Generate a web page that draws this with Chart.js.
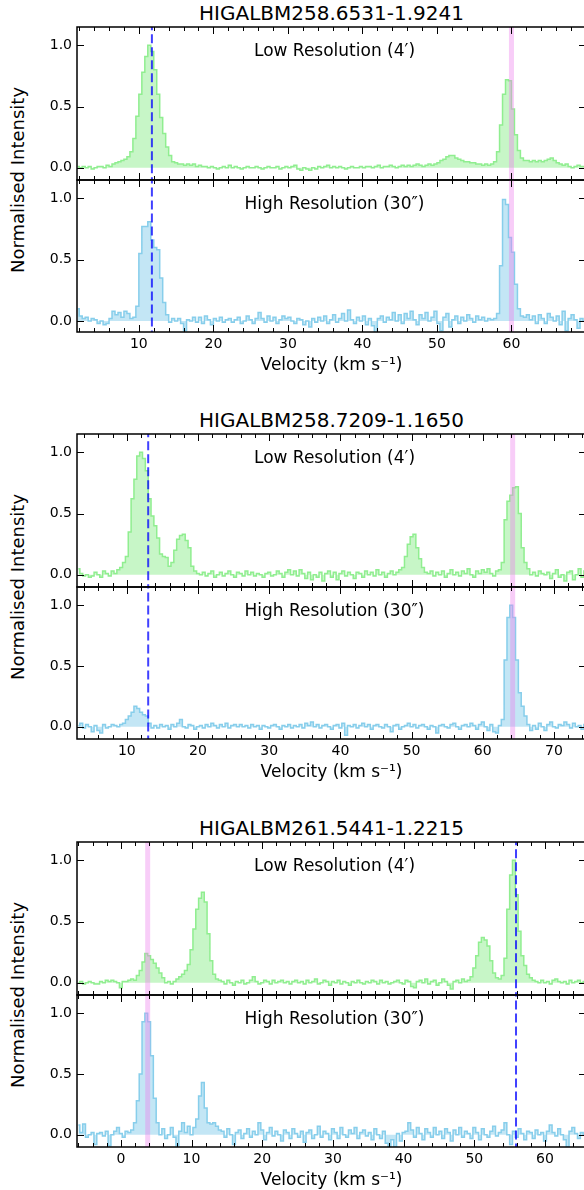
<!DOCTYPE html>
<html>
<head>
<meta charset="utf-8">
<script src="https://cdn.jsdelivr.net/npm/chart.js@4.4.1/dist/chart.umd.min.js"></script>
<style>
  html, body { margin: 0; padding: 0; background: #fff; overflow: hidden; }
  body { width: 584px; height: 1190px; position: relative; font-family: "DejaVu Sans", sans-serif; color: #000; }
  canvas { position: absolute; left: 0; }
  .title { position: absolute; left: 0; width: 663px; height: 22px; line-height: 22px; text-align: center; font-size: 20px; white-space: nowrap; }
  .ylabel { position: absolute; left: 17px; font-size: 18px; white-space: nowrap; transform: translate(-50%, -50%) rotate(-90deg); }
</style>
</head>
<body>
<script>
// spectra, channel width 0.4 km/s, normalised to the brightest channel
const channelWidth = 0.4;
const sourceNames = ["HIGALBM258.6531-1.9241", "HIGALBM258.7209-1.1650", "HIGALBM261.5441-1.2215"];
const startVelocity = [1.8, 3.2, -6.0];
const velocityRange = [[1.7, 70.0], [3.0, 74.5], [-6.2, 65.8]];
const xTickLabels = [
  [10, 20, 30, 40, 50, 60],
  [10, 20, 30, 40, 50, 60, 70],
  [0, 10, 20, 30, 40, 50, 60]
];
const yTickValues = [0, 0.5, 1.0];
const dashedVelocity = [11.75, 13.0, 55.9];
const bandVelocity = [60.0, 64.2, 3.8];

const g1Low = [
  0.01, 0.00, 0.01, 0.00, 0.01, -0.01, 0.00, 0.01, 0.01, 0.00, 0.02, 0.01,
  0.03, 0.04, 0.05, 0.06, 0.07, 0.09, 0.13, 0.24, 0.42, 0.60, 0.78, 0.91, 1.00, 0.95, 0.80, 0.60,
  0.41, 0.28, 0.17, 0.10, 0.05, 0.04, 0.03, 0.03, 0.02, 0.03, 0.02, 0.03, 0.01,
  0.02, 0.01, 0.01, 0.00, 0.01, 0.00, -0.01, 0.00, 0.01, 0.00,
  0.02, 0.00, 0.01, 0.00, -0.01, 0.00, 0.01, 0.00, 0.00, 0.01,
  0.00, -0.01, 0.00, 0.01, 0.00, 0.00, 0.01, -0.01, 0.00, 0.01,
  0.00, 0.01, 0.02, -0.01, -0.02, 0.00, -0.01, -0.02, 0.00, -0.01,
  0.01, 0.00, 0.01, 0.02, 0.00, 0.01, 0.00, 0.01, 0.00, -0.01,
  0.00, 0.01, 0.00, 0.00, 0.01, 0.00, 0.01, 0.01, 0.00, 0.01,
  0.02, 0.00, 0.01, 0.01, 0.02, 0.01, 0.00, 0.01, 0.02, 0.01,
  0.02, 0.01, 0.02, 0.03, 0.02, 0.01, 0.02, 0.03, 0.02,
  0.03, 0.04, 0.06, 0.07, 0.09, 0.10, 0.10, 0.08, 0.07, 0.06, 0.05, 0.05, 0.04, 0.04, 0.03, 0.03,
  0.02, 0.03, 0.02, 0.03, 0.05, 0.13, 0.35, 0.60, 0.72, 0.71, 0.48, 0.27, 0.14, 0.08, 0.06,
  0.06, 0.05, 0.06, 0.05, 0.06, 0.05, 0.06, 0.07, 0.08, 0.06, 0.04, 0.03, 0.02, 0.03, 0.01,
  0.00, 0.01, 0.02, 0.01, 0.01
];
const g1High = [
  0.10, 0.04, 0.02, 0.03, 0.00, 0.02, 0.01, -0.02, 0.00, -0.03, -0.02, 0.02, 0.08, 0.05,
  0.07, 0.03, 0.08, 0.06, 0.02, 0.03, 0.12, 0.55, 0.77, 0.77, 0.81, 0.66, 0.60, 0.58,
  0.35, 0.15, 0.05, -0.01, 0.02, 0.00, 0.02, -0.02, -0.08, 0.01, 0.00, 0.03, -0.01,
  0.03, -0.02, 0.04, 0.01, -0.03, 0.02, 0.00, 0.03, -0.01, 0.01,
  0.02, -0.01, 0.01, 0.03, -0.02, 0.00, 0.04, 0.01, -0.02, 0.02,
  0.07, 0.02, -0.01, 0.04, 0.00, 0.03, -0.02, 0.01, 0.04, 0.02,
  0.03, 0.00, -0.02, 0.02, 0.01, -0.03, 0.00, -0.05, 0.02, -0.01,
  0.03, 0.00, 0.04, -0.02, 0.01, 0.05, -0.01, 0.02, 0.06, 0.00,
  0.09, 0.01, -0.02, 0.03, 0.00, 0.04, -0.03, 0.02, -0.04, -0.10,
  0.02, 0.04, -0.01, 0.03, 0.01, 0.07, 0.00, 0.05, -0.02, 0.06,
  0.02, 0.08, 0.01, -0.03, 0.05, 0.02, 0.07, 0.00, 0.03, 0.08,
  -0.02, -0.08, 0.03, 0.06, -0.05, 0.01, 0.04, -0.02, 0.03, 0.00,
  0.05, 0.02, -0.01, 0.04, 0.01, 0.03, 0.00, 0.02, 0.01,
  0.02, 0.06, 0.45, 0.99, 0.95, 0.68, 0.56, 0.30, 0.10, 0.04, 0.03, 0.05, 0.01, 0.04, -0.02,
  0.05, 0.02, -0.02, 0.06, 0.03, 0.00, 0.04, -0.03, 0.08, -0.08, 0.02, 0.05, 0.01, -0.06,
  0.02, 0.00
];

const g2Low = [
  0.05, 0.01, -0.01, 0.00, -0.02, -0.01, 0.02, 0.00, -0.02, 0.03, 0.01, -0.01, 0.03, 0.01, 0.04,
  0.06, 0.10, 0.15, 0.35, 0.62, 0.78, 0.97, 1.00, 0.95, 0.85, 0.62, 0.48, 0.40, 0.30,
  0.17, 0.15, 0.14, 0.07, 0.10, 0.20, 0.29, 0.32, 0.33, 0.28, 0.22, 0.07, 0.03, 0.01,
  0.00, 0.02, -0.01, 0.01, 0.03, -0.02, 0.00, 0.02, -0.01, 0.01,
  0.03, 0.00, -0.02, 0.02, 0.01, -0.01, 0.03, 0.00, 0.02, -0.01,
  0.01, 0.00, -0.02, 0.01, 0.02, -0.01, 0.00, 0.03, 0.01, -0.02,
  0.02, 0.04, 0.00, 0.03, -0.01, 0.04, 0.01, -0.03, 0.02, -0.04,
  0.00, -0.02, 0.02, -0.05, 0.01, 0.03, -0.02, 0.02, -0.04, 0.01,
  0.03, -0.01, 0.02, 0.00, -0.03, 0.02, 0.01, -0.02, 0.03, 0.00,
  0.02, -0.01, 0.04, 0.00, 0.02, -0.02, 0.01, 0.03, 0.00, 0.02, 0.04,
  0.06, 0.15, 0.25, 0.31, 0.33, 0.22, 0.13, 0.06, 0.02,
  0.01, 0.03, -0.01, 0.02, 0.00, 0.03, -0.02, 0.01, 0.04, 0.00,
  0.02, -0.01, 0.03, 0.01, 0.05, 0.00, -0.02, 0.03, 0.01, 0.04,
  0.02, 0.05, 0.01, -0.01, 0.03, 0.04,
  0.10, 0.45, 0.60, 0.65, 0.71, 0.72, 0.50, 0.22, 0.10, 0.05, 0.00,
  0.02, -0.01, 0.03, 0.01, 0.00, 0.02, -0.03, 0.01, 0.04, -0.02,
  0.00, -0.05, 0.02, 0.03, -0.04, 0.00, 0.05, -0.02, 0.03
];
const g2High = [
  0.01, 0.03, -0.01, 0.02, 0.00, -0.04, 0.01, -0.03, -0.05, 0.02, -0.01, 0.00, 0.02, 0.01, 0.00,
  0.02, 0.03, 0.06, 0.09, 0.12, 0.17, 0.15, 0.12, 0.10, 0.09, 0.03, -0.01,
  0.01, -0.01, 0.02, 0.00, 0.01, -0.02, 0.02, 0.00, 0.03, 0.06,
  0.00, -0.01, 0.02, 0.01, -0.02, 0.00, 0.01, -0.01, 0.02, 0.00,
  0.03, 0.01, -0.01, 0.02, 0.00, 0.03, -0.01, 0.01, 0.02, 0.00,
  0.02, 0.00, 0.01, -0.01, 0.02, 0.00, 0.01, -0.02, 0.01, 0.00,
  -0.01, 0.01, 0.02, 0.00, -0.02, 0.01, 0.00, 0.02, -0.01, 0.01,
  0.00, 0.02, -0.01, 0.03, 0.01, 0.04, 0.00, 0.02, -0.01, 0.01,
  0.02, 0.00, -0.02, 0.01, 0.02, -0.01, 0.03, -0.07, 0.01, 0.00,
  0.02, -0.01, 0.01, 0.03, 0.00, 0.02, -0.02, 0.01, 0.02, 0.00,
  -0.01, 0.02, 0.00, -0.04, 0.01, 0.02, -0.02, 0.00, 0.01, 0.03,
  0.00, 0.02, -0.01, 0.01, 0.02, 0.00, -0.02, 0.01, 0.00, -0.05,
  0.01, 0.02, 0.00, -0.01, 0.02, 0.03, 0.00, -0.02, 0.01, 0.02,
  0.00, 0.03, 0.01, -0.02, 0.02, 0.04, 0.00, -0.03, 0.02, -0.04, -0.05, 0.01,
  0.06, 0.55, 0.90, 1.00, 0.90, 0.55, 0.28, 0.17, 0.09, 0.02, -0.03,
  0.01, -0.02, 0.03, 0.00, -0.03, 0.02, 0.04, 0.00, -0.01, 0.02,
  0.01, 0.04, 0.02, -0.01, 0.03, 0.00, 0.01, -0.02, 0.02
];

const g3Low = [
  0.00, 0.01, -0.01, 0.00, 0.01, 0.00, -0.01, -0.01, 0.01, 0.00, 0.02, 0.01, 0.02, 0.01, 0.00, -0.04, 0.01,
  0.01, 0.02, 0.03, 0.02, 0.06, 0.10, 0.17, 0.24, 0.22, 0.19, 0.16, 0.12, 0.08, 0.04, 0.00, 0.01, -0.01,
  0.01, 0.03, 0.05, 0.07, 0.10, 0.15, 0.27, 0.44, 0.60, 0.69, 0.74, 0.66, 0.40, 0.18, 0.07, 0.03, 0.02,
  0.01, -0.01, 0.02, 0.00, -0.02, 0.01, 0.00, 0.02, -0.01, 0.00,
  0.02, 0.05, 0.01, -0.01, 0.00, 0.02, 0.01, -0.01, 0.02, 0.00,
  0.01, 0.02, 0.00, 0.01, -0.01, 0.01, 0.02, 0.00, 0.01, -0.01,
  0.02, 0.00, 0.01, 0.03, -0.01, 0.00, 0.02, 0.01, -0.02, 0.01,
  0.00, 0.02, -0.01, 0.01, 0.00, -0.02, 0.01, 0.00, 0.02, 0.00,
  -0.01, 0.01, 0.00, 0.02, 0.01, -0.01, 0.02, 0.00, 0.01, -0.01,
  0.00, 0.01, 0.02, 0.00, -0.01, 0.02, 0.01, -0.03, -0.04, 0.01,
  0.02, 0.00, 0.03, -0.01, 0.01, 0.02, -0.02, 0.00, 0.03, 0.01,
  -0.02, -0.05, 0.01, 0.02, 0.00, 0.03, 0.01,
  0.02, 0.05, 0.12, 0.22, 0.33, 0.37, 0.35, 0.30, 0.18, 0.08, 0.04, 0.03,
  0.06, 0.20, 0.60, 0.88, 1.00, 0.72, 0.42, 0.22, 0.14, 0.07, 0.04, 0.02,
  0.01, 0.00, 0.02, 0.00, 0.01, -0.01, 0.02, 0.03, 0.01, 0.00, 0.01, -0.01, 0.02, 0.00, 0.01, 0.02, 0.00, 0.01
];
const g3High = [
  0.08, 0.02, 0.09, -0.02, 0.00, 0.02, -0.08, 0.01, 0.02, -0.01, 0.03, -0.09, 0.00, 0.03, 0.06, 0.01,
  -0.02, 0.03, 0.02, 0.04,
  0.10, 0.28, 0.50, 0.93, 1.00, 0.93, 0.65, 0.30, 0.10, 0.00,
  0.05, -0.03, 0.00, 0.06, -0.02, -0.09, 0.03, 0.10, 0.02, 0.07, 0.00, 0.06,
  0.13, 0.32, 0.43, 0.22, 0.10, 0.09, 0.10, 0.07, 0.04,
  0.03, -0.02, 0.05, 0.00, -0.08, 0.02, 0.04, -0.03, 0.01, 0.05,
  -0.02, 0.03, 0.00, 0.10, 0.04, -0.04, 0.02, 0.06, -0.01, 0.03,
  0.00, -0.05, 0.04, 0.02, -0.03, 0.05, 0.01, -0.02, 0.03, -0.06,
  0.02, 0.04, -0.03, 0.00, 0.07, -0.02, 0.03, 0.01, -0.04, 0.05,
  0.02, -0.03, 0.06, 0.00, -0.02, 0.04, 0.01, 0.06, -0.03, 0.02,
  0.04, -0.01, 0.02, -0.04, 0.05, 0.00, -0.03, 0.03, -0.07, -0.10,
  -0.04, -0.10, 0.01, -0.05, 0.02, 0.03, 0.10, 0.04, -0.02, 0.06,
  0.01, -0.04, 0.05, 0.02, -0.02, 0.06, 0.00, 0.03, -0.03, 0.05,
  0.02, -0.05, 0.04, 0.00, 0.06, -0.02, 0.03, 0.01, -0.03, 0.06,
  0.02, -0.04, 0.05, 0.00, -0.02, 0.03, 0.07, -0.01, 0.02, 0.04,
  0.10, 0.00, -0.08, 0.03, -0.02, 0.05, 0.01, -0.04, 0.03, 0.02,
  -0.03, 0.04, 0.00, 0.02, -0.05, 0.03, 0.08, 0.02, -0.01, 0.05,
  0.00, -0.04, -0.10, 0.03, 0.06, 0.01, -0.03, 0.02, 0.00
];

const lowSeries = [g1Low, g2Low, g3Low];
const highSeries = [g1High, g2High, g3High];
const highYMin = [-0.09, -0.1, -0.1];

const FONT = "'DejaVu Sans', sans-serif";
const groupOffsets = [0, 407, 815];

// spines and inward ticks on all four sides, plus the panel caption
const framePlugin = {
  id: "frame",
  afterDraw(chart, args, opts) {
    const { ctx, chartArea: a, scales: { x, y } } = chart;
    ctx.save();
    ctx.strokeStyle = "#000";
    ctx.lineWidth = 1;
    ctx.beginPath();
    x.ticks.forEach(t => {
      const px = Math.round(x.getPixelForValue(t.value)) + 0.5;
      const len = t.value % 10 === 0 ? 7 : 4;
      ctx.moveTo(px, a.top); ctx.lineTo(px, a.top + len);
      ctx.moveTo(px, a.bottom); ctx.lineTo(px, a.bottom - len);
    });
    y.ticks.forEach(t => {
      const py = Math.round(y.getPixelForValue(t.value)) + 0.5;
      ctx.moveTo(a.left, py); ctx.lineTo(a.left + 7, py);
      ctx.moveTo(a.right, py); ctx.lineTo(a.right - 7, py);
    });
    ctx.stroke();
    ctx.lineWidth = 1.5;
    ctx.strokeRect(a.left, a.top, a.right - a.left, a.bottom - a.top);
    ctx.fillStyle = "#000";
    ctx.font = "17px " + FONT;
    ctx.textAlign = "center";
    ctx.textBaseline = "middle";
    ctx.fillText(opts.caption, (a.left + a.right) / 2 + 3, a.top + 25);
    ctx.restore();
  }
};

function addCanvas(top, height) {
  const c = document.createElement("canvas");
  c.width = 590;
  c.height = height;
  c.style.top = top + "px";
  c.style.width = "590px";
  c.style.height = height + "px";
  document.body.appendChild(c);
  return c;
}

function addText(cls, text, top) {
  const d = document.createElement("div");
  d.className = cls;
  d.textContent = text;
  d.style.top = top + "px";
  document.body.appendChild(d);
}

// the label-overhang padding would push the plot area in; the frame is placed by hand
function noOverhang(s) {
  s.paddingTop = 0;
  s.paddingBottom = 0;
  s.paddingLeft = 0;
  s.paddingRight = 0;
}

function makePanel(canvas, g, series, isBottom, caption, lineColor, fillColor, yMin) {
  const [xMin, xMax] = velocityRange[g];
  const labels = xTickLabels[g];
  const minorTicks = [];
  for (let v = Math.ceil(xMin / 2) * 2; v <= xMax; v += 2) minorTicks.push(v);
  const points = series.map((val, i) => ({ x: +(startVelocity[g] + i * channelWidth).toFixed(2), y: val }));

  return new Chart(canvas, {
    type: "line",
    data: {
      datasets: [
        {
          data: points, stepped: "middle", borderColor: lineColor, backgroundColor: fillColor,
          fill: "origin", borderWidth: 1.5, pointRadius: 0, clip: 0, order: 3
        },
        {
          data: [{ x: bandVelocity[g], y: -1 }, { x: bandVelocity[g], y: 2 }],
          borderColor: "rgba(238,130,238,0.4)", borderWidth: 5, pointRadius: 0, fill: false, clip: 0, order: 2
        },
        {
          data: [{ x: dashedVelocity[g], y: -1 }, { x: dashedVelocity[g], y: 2 }],
          borderColor: "rgba(0,0,255,0.75)", borderWidth: 2, borderDash: [9, 4], pointRadius: 0, fill: false, clip: 0, order: 1
        }
      ]
    },
    options: {
      responsive: false,
      animation: false,
      events: [],
      layout: { padding: { left: 0, right: 4, top: isBottom ? 2 : 27, bottom: isBottom ? 0 : 2 } },
      plugins: { legend: { display: false }, tooltip: { enabled: false }, frame: { caption } },
      scales: {
        x: {
          type: "linear", min: xMin, max: xMax,
          afterBuildTicks: s => { s.ticks = minorTicks.map(v => ({ value: v })); },
          afterFit: s => { s.height = isBottom ? 48 : 0; noOverhang(s); },
          grid: { display: false, drawTicks: false },
          border: { display: false },
          ticks: {
            display: isBottom, autoSkip: false, maxRotation: 0, minRotation: 0, padding: 4,
            color: "#000", font: { family: FONT, size: 14 },
            callback: v => labels.includes(v) ? String(v) : ""
          },
          title: {
            display: isBottom, text: "Velocity (km s\u207B\u00B9)", color: "#000",
            font: { family: FONT, size: 17 }, padding: { top: 0, bottom: 4 }
          }
        },
        y: {
          type: "linear", min: yMin, max: 1.15,
          afterBuildTicks: s => { s.ticks = yTickValues.map(v => ({ value: v })); },
          afterFit: s => { s.width = 77; noOverhang(s); },
          grid: { display: false, drawTicks: false },
          border: { display: false },
          ticks: { padding: 5, color: "#000", font: { family: FONT, size: 14 }, callback: v => v.toFixed(1) }
        }
      }
    },
    plugins: [framePlugin]
  });
}

sourceNames.forEach((name, g) => {
  const o = groupOffsets[g];
  addText("title", name, o + 2);
  addText("ylabel", "Normalised Intensity", o + 180);
  makePanel(addCanvas(o, 182), g, lowSeries[g], false, "Low Resolution (4\u2032)",
    "#90ee90", "rgba(144,238,144,0.5)", -0.1);
  makePanel(addCanvas(o + 178, 202), g, highSeries[g], true, "High Resolution (30\u2033)",
    "#87ceeb", "rgba(135,206,235,0.5)", highYMin[g]);
});
</script>
</body>
</html>
